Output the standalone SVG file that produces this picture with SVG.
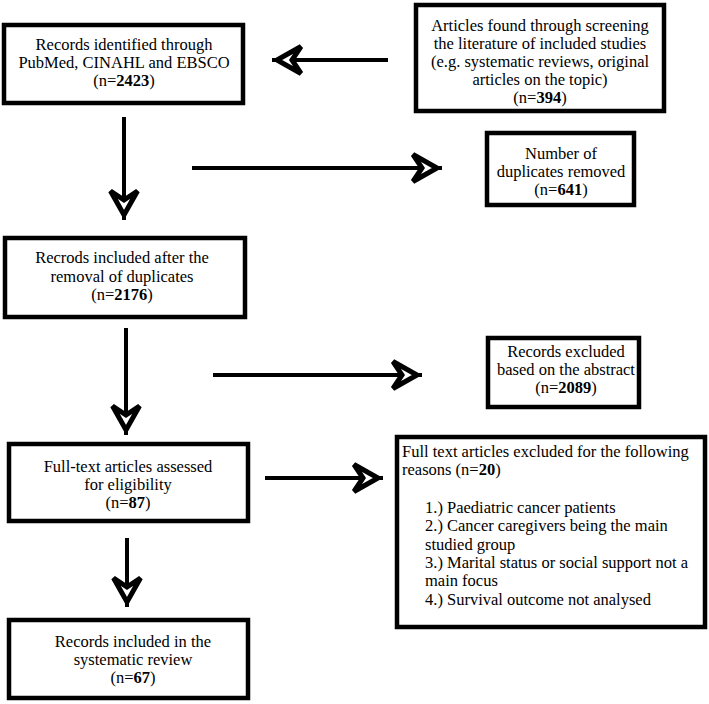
<svg xmlns="http://www.w3.org/2000/svg" width="709" height="704" viewBox="0 0 709 704">
<style>
  .box { fill: #fff; stroke: #000; stroke-width: 4.5; }
  .t { font-family: "Liberation Serif", "Times New Roman", serif; font-size: 16.5px; fill: #000; }
  .c { text-anchor: middle; }
  .b { font-weight: bold; }
  .conn { stroke: #000; stroke-width: 4; fill: none; marker-end: url(#head); }
</style>
<defs>
  <marker id="head" markerUnits="userSpaceOnUse" viewBox="0 0 36 34" refX="33" refY="17" markerWidth="36" markerHeight="34" orient="auto" overflow="visible">
    <path d="M4,3.5 L28,17 L4,30.5 L13,17 Z" fill="#fff" stroke="#000" stroke-width="5" stroke-linejoin="miter"/>
  </marker>
</defs>
<rect width="709" height="704" fill="#fff"/>

<g id="connectors">
  <line class="conn" x1="388" y1="60" x2="272" y2="60"/>
  <line class="conn" x1="124" y1="117" x2="124" y2="220"/>
  <line class="conn" x1="192" y1="168" x2="442" y2="168"/>
  <line class="conn" x1="126" y1="328" x2="126" y2="435"/>
  <line class="conn" x1="213" y1="375" x2="422" y2="375"/>
  <line class="conn" x1="265" y1="478" x2="383" y2="478"/>
  <line class="conn" x1="127" y1="538" x2="127" y2="607"/>
</g>

<g id="identified">
  <rect class="box" x="4" y="25" width="239" height="78"/>
  <text class="t c" x="124" y="50">Records identified through</text>
  <text class="t c" x="124" y="68">PubMed, CINAHL and EBSCO</text>
  <text class="t c" x="124" y="86">(n=<tspan class="b">2423</tspan>)</text>
</g>

<g id="screening">
  <rect class="box" x="416" y="5" width="248" height="106"/>
  <text class="t c" x="540" y="30.5">Articles found through screening</text>
  <text class="t c" x="540" y="48.5">the literature of included studies</text>
  <text class="t c" x="540" y="66.5">(e.g. systematic reviews, original</text>
  <text class="t c" x="540" y="84.5">articles on the topic)</text>
  <text class="t c" x="540" y="102.5">(n=<tspan class="b">394</tspan>)</text>
</g>

<g id="duplicates">
  <rect class="box" x="487" y="133" width="147" height="72"/>
  <text class="t c" x="561" y="158.5">Number of</text>
  <text class="t c" x="561" y="176.5">duplicates removed</text>
  <text class="t c" x="561" y="194.5">(n=<tspan class="b">641</tspan>)</text>
</g>

<g id="after-dup">
  <rect class="box" x="5" y="238" width="240" height="79"/>
  <text class="t c" x="122" y="263">Recrods included after the</text>
  <text class="t c" x="122" y="281.5">removal of duplicates</text>
  <text class="t c" x="122" y="300">(n=<tspan class="b">2176</tspan>)</text>
</g>

<g id="abstract-excluded">
  <rect class="box" x="488" y="338" width="151" height="69"/>
  <text class="t c" x="566" y="357">Records excluded</text>
  <text class="t c" x="566" y="375">based on the abstract</text>
  <text class="t c" x="566" y="393">(n=<tspan class="b">2089</tspan>)</text>
</g>

<g id="fulltext">
  <rect class="box" x="9" y="444" width="239" height="77"/>
  <text class="t c" x="128" y="472">Full-text articles assessed</text>
  <text class="t c" x="128" y="490">for eligibility</text>
  <text class="t c" x="128" y="508">(n=<tspan class="b">87</tspan>)</text>
</g>

<g id="fulltext-excluded">
  <rect class="box" x="397" y="437" width="308" height="190"/>
  <text class="t" x="402" y="457">Full text articles excluded for the following</text>
  <text class="t" x="402" y="475">reasons  (n=<tspan class="b">20</tspan>)</text>
  <text class="t" x="425" y="513">1.) Paediatric cancer patients</text>
  <text class="t" x="425" y="531.3">2.) Cancer caregivers being the main</text>
  <text class="t" x="425" y="549.6">studied group</text>
  <text class="t" x="425" y="568">3.) Marital status or social support not a</text>
  <text class="t" x="425" y="586.3">main focus</text>
  <text class="t" x="425" y="604.6">4.) Survival outcome not analysed</text>
</g>

<g id="included">
  <rect class="box" x="9" y="620" width="239" height="78"/>
  <text class="t c" x="133" y="647">Records included in the</text>
  <text class="t c" x="133" y="665">systematic review</text>
  <text class="t c" x="133" y="683">(n=<tspan class="b">67</tspan>)</text>
</g>
</svg>
